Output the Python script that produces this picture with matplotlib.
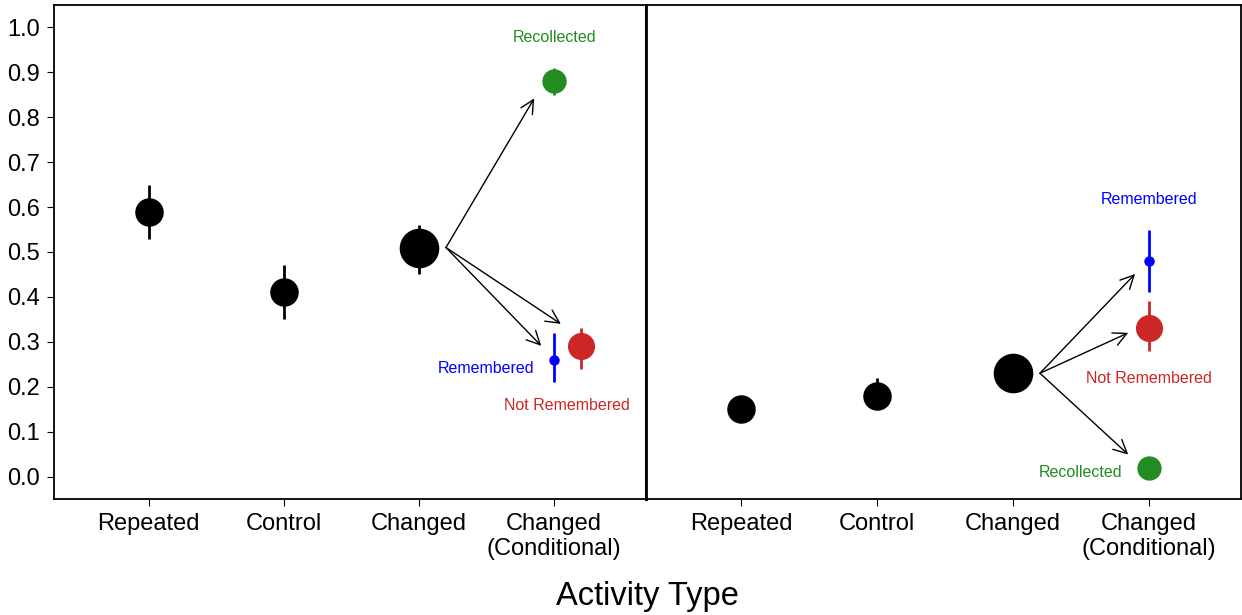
import numpy as np
import matplotlib
matplotlib.use("Agg")
import matplotlib.pyplot as plt

plt.rcParams['font.family'] = ['Liberation Sans', 'DejaVu Sans']

# категории по оси x
categories = ["Repeated", "Control", "Changed", "Changed\n(Conditional)"]

# левая панель: основные точки (Repeated, Control, Changed)
left_y = [0.59, 0.41, 0.51]
left_lo = [0.06, 0.06, 0.06]
left_hi = [0.06, 0.06, 0.05]

# левая панель: условные точки
left_cond_name = ["Recollected", "Remembered", "Not Remembered"]
left_cond_x = [4.0, 4.0, 4.2]
left_cond_y = [0.88, 0.26, 0.29]
left_cond_lo = [0.03, 0.05, 0.05]
left_cond_hi = [0.03, 0.06, 0.04]

# правая панель
right_y = [0.15, 0.18, 0.23]
right_lo = [0.02, 0.03, 0.02]
right_hi = [0.02, 0.04, 0.02]

right_cond_name = ["Recollected", "Remembered", "Not Remembered"]
right_cond_x = [4.0, 4.0, 4.0]
right_cond_y = [0.02, 0.48, 0.33]
right_cond_lo = [0.01, 0.07, 0.05]
right_cond_hi = [0.01, 0.07, 0.06]

cond_colors = {"Recollected": "#228B22", "Remembered": "#0000FF",
               "Not Remembered": "#CD2626"}
cond_sizes = {"Recollected": 16.5, "Remembered": 6.5, "Not Remembered": 18.5}
main_sizes = [19.5, 19.5, 27.5]

W, H, DPI = 1242, 615, 100
fig = plt.figure(figsize=(W / DPI, H / DPI), dpi=DPI)

x0, x1, x2 = 54, 646, 1241
ybot, ytop = 499, 5
ax1 = fig.add_axes([x0 / W, 1 - ybot / H, (x1 - x0) / W, (ybot - ytop) / H])
ax2 = fig.add_axes([x1 / W, 1 - ybot / H, (x2 - x1) / W, (ybot - ytop) / H])


def draw_panel(ax, ys, lo, hi, cnames, cx, cy, clo, chi):
    for i, y in enumerate(ys):
        ax.errorbar(i + 1, y, yerr=[[lo[i]], [hi[i]]], fmt="o", color="black",
                    markersize=main_sizes[i], elinewidth=2, capsize=0, zorder=3)
    for name, x, y, l, h in zip(cnames, cx, cy, clo, chi):
        c = cond_colors[name]
        ax.errorbar(x, y, yerr=[[l], [h]], fmt="o", color=c,
                    markersize=cond_sizes[name], elinewidth=2, capsize=0, zorder=3)
    ax.set_xlim(0.3, 4.68)
    ax.set_ylim(-0.05, 1.05)
    ax.set_xticks(range(1, 5))
    ax.set_xticklabels(categories, fontsize=17, linespacing=1.2)
    ax.tick_params(axis="x", length=5, width=0.8, pad=5)
    for s in ax.spines.values():
        s.set_linewidth(1.3)


draw_panel(ax1, left_y, left_lo, left_hi, left_cond_name,
           left_cond_x, left_cond_y, left_cond_lo, left_cond_hi)
draw_panel(ax2, right_y, right_lo, right_hi, right_cond_name,
           right_cond_x, right_cond_y, right_cond_lo, right_cond_hi)

ax1.set_yticks(np.arange(0, 1.01, 0.1))
ax1.set_yticklabels(["%.1f" % v for v in np.arange(0, 1.01, 0.1)], fontsize=17)
ax1.tick_params(axis="y", length=5, width=0.8, pad=5)
ax2.set_yticks([])
ax1.spines["right"].set_linewidth(2)
ax2.spines["left"].set_linewidth(2)

arrow = dict(arrowstyle="->", color="black", lw=1.0, shrinkA=0, shrinkB=0,
             mutation_scale=24)

# стрелки от Changed к условным точкам
for tx, ty in [(3.853, 0.842), (4.05, 0.34), (3.905, 0.291)]:
    ax1.annotate("", xy=(tx, ty), xytext=(3.2, left_y[2]), arrowprops=arrow)
for tx, ty in [(3.90, 0.451), (3.85, 0.32), (3.85, 0.049)]:
    ax2.annotate("", xy=(tx, ty), xytext=(3.2, right_y[2]), arrowprops=arrow)

fs = 11.5
ax1.text(4.0, 0.978, "Recollected", color=cond_colors["Recollected"],
         fontsize=fs, ha="center", va="center")
ax1.text(3.853, 0.24, "Remembered", color=cond_colors["Remembered"],
         fontsize=fs, ha="right", va="center")
ax1.text(4.097, 0.158, "Not Remembered", color=cond_colors["Not Remembered"],
         fontsize=fs, ha="center", va="center")

ax2.text(4.0, 0.618, "Remembered", color=cond_colors["Remembered"],
         fontsize=fs, ha="center", va="center")
ax2.text(4.0, 0.218, "Not Remembered", color=cond_colors["Not Remembered"],
         fontsize=fs, ha="center", va="center")
ax2.text(3.81, 0.009, "Recollected", color=cond_colors["Recollected"],
         fontsize=fs, ha="right", va="center")

fig.text((x0 + x2) / 2 / W, 1 - 596 / H, "Activity Type", fontsize=23.5,
         ha="center", va="center")

fig.savefig("out.png", dpi=DPI)
